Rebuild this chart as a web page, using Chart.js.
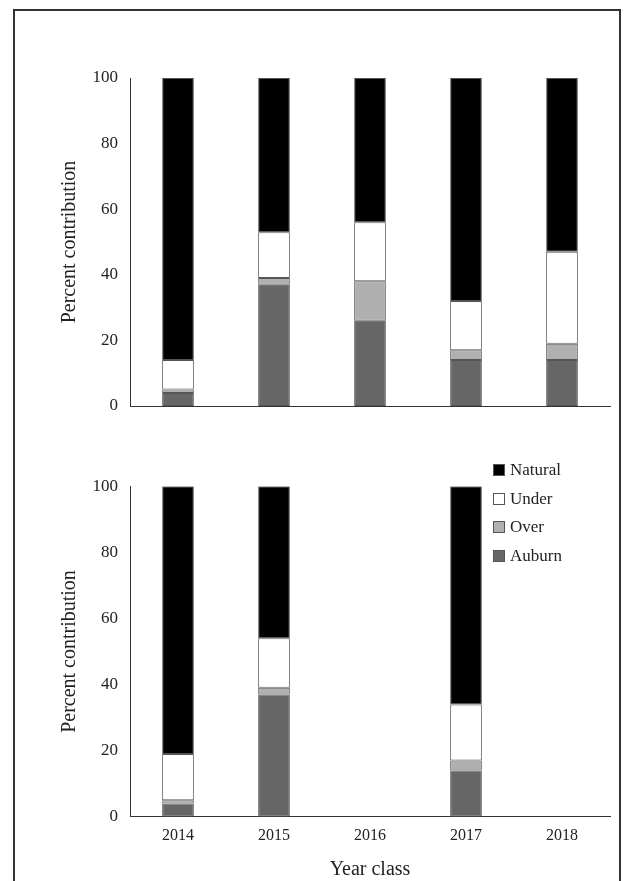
<!DOCTYPE html>
<html>
<head>
<meta charset="utf-8">
<script src="https://cdn.jsdelivr.net/npm/chart.js@4/dist/chart.umd.min.js"></script>
<style>
  body { margin: 0; background: #fff; overflow: hidden; }
  #frame { position: absolute; left: 13px; top: 9px; width: 608px; height: 890px; border: 2px solid #333; box-sizing: border-box; }
  canvas { position: absolute; left: 0; }
  #legend { position: absolute; left: 493px; top: 456px; font-family: "Liberation Serif"; font-size: 17px; color: #222; }
  #legend div { height: 28.5px; display: flex; align-items: center; }
  #legend span { display: inline-block; width: 10px; height: 10px; border: 1px solid #555; margin-right: 5px; }
</style>
</head>
<body>
<div id="frame"></div>
<canvas id="top" width="637" height="370" style="top:60px"></canvas>
<canvas id="bottom" width="637" height="416" style="top:470px"></canvas>
<div id="legend"></div>
<script>
var years = ['2014', '2015', '2016', '2017', '2018'];
var colors = { Auburn: '#666666', Over: '#b0b0b0', Under: '#ffffff', Natural: '#000000' };

// top panel
var auburnTop = [4, 37, 26, 14, 14];
var overTop = [1, 2, 12, 3, 5];
var underTop = [9, 14, 18, 15, 28];
var naturalTop = [86, 47, 44, 68, 53];

// bottom panel (no data for 2016, 2018)
var auburnBot = [4, 37, null, 14, null];
var overBot = [1, 2, null, 3, null];
var underBot = [14, 15, null, 17, null];
var naturalBot = [81, 46, null, 66, null];

var serif = 'Liberation Serif';

function sets(a, o, u, n) {
    return [['Auburn', a], ['Over', o], ['Under', u], ['Natural', n]].map(function (p) {
        return {
            label: p[0], data: p[1], backgroundColor: colors[p[0]],
            borderColor: '#555', borderWidth: 1, borderSkipped: false,
            barPercentage: 0.33, categoryPercentage: 1
        };
    });
}

function makeChart(id, datasets, showX, pad) {
    new Chart(document.getElementById(id), {
        type: 'bar',
        data: { labels: years, datasets: datasets },
        options: {
            responsive: false, animation: false,
            layout: { padding: pad },
            plugins: { legend: { display: false }, tooltip: { enabled: false } },
            scales: {
                x: {
                    stacked: true,
                    grid: { display: false, drawTicks: false },
                    border: { color: '#333' },
                    ticks: { display: showX, color: '#222', font: { family: serif, size: 16 }, padding: 9 },
                    title: { display: showX, text: 'Year class', color: '#222', font: { family: serif, size: 20 }, padding: 4 }
                },
                y: {
                    stacked: true, min: 0, max: 100,
                    afterFit: function (s) { s.width = 76; },
                    grid: { display: false, drawTicks: true, tickLength: 6, tickColor: '#333' },
                    border: { color: '#333' },
                    ticks: { stepSize: 20, color: '#222', font: { family: serif, size: 17 }, padding: 6 },
                    title: { display: true, text: 'Percent contribution', color: '#222', font: { family: serif, size: 20 }, padding: 4 }
                }
            }
        }
    });
}

makeChart('top', sets(auburnTop, overTop, underTop, naturalTop), false, { left: 54, right: 27, top: 18, bottom: 24 });
makeChart('bottom', sets(auburnBot, overBot, underBot, naturalBot), true, { left: 54, right: 27, top: 12, bottom: 0 });

var lg = document.getElementById('legend');
['Natural', 'Under', 'Over', 'Auburn'].forEach(function (k) {
    var d = document.createElement('div');
    d.innerHTML = '<span style="background:' + colors[k] + '"></span>' + k;
    lg.appendChild(d);
});
</script>
</body>
</html>
